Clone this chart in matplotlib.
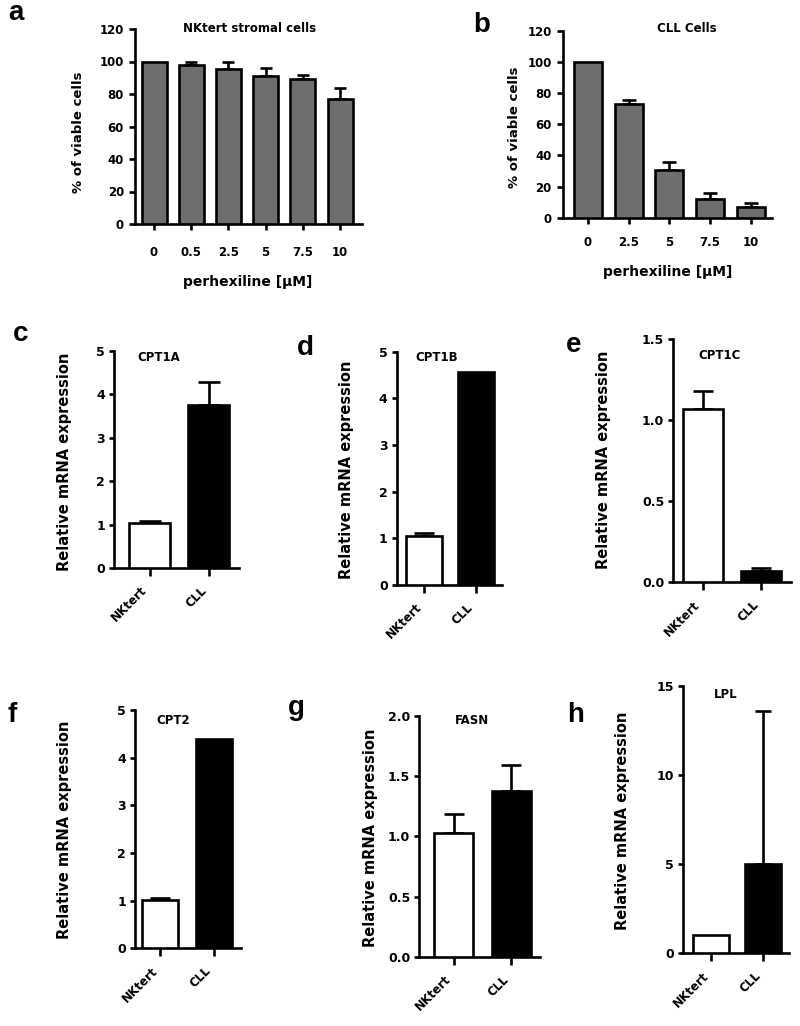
import numpy as np
import matplotlib
matplotlib.use('Agg')
import matplotlib.pyplot as plt
from matplotlib.ticker import FormatStrFormatter

# GraphPad exports letter-spaced Arial; the wider DejaVu bold gets closer in width
plt.rcParams['font.family'] = ['DejaVu Sans']
plt.rcParams['font.weight'] = 'bold'

# data
a_doses = ['0', '0.5', '2.5', '5', '7.5', '10']
a_viable = [100, 97.8, 95.4, 91.3, 89.4, 77.1]
a_err = [0, 2.1, 4.3, 4.9, 2.3, 6.4]

b_doses = ['0', '2.5', '5', '7.5', '10']
b_viable = [100, 72.7, 30.8, 12.0, 7.1]
b_err = [0, 3.0, 4.7, 3.6, 2.1]

groups = ['NKtert', 'CLL']
cpt1a = [1.03, 3.74]
cpt1a_err = [0.06, 0.53]
cpt1b = [1.05, 4.56]
cpt1b_err = [0.06, 0]
cpt1c = [1.07, 0.07]
cpt1c_err = [0.11, 0.016]
cpt2 = [1.01, 4.39]
cpt2_err = [0.04, 0]
fasn = [1.025, 1.377]
fasn_err = [0.163, 0.216]
lpl = [1.03, 5.0]
lpl_err = [0, 8.58]

W, H = 800, 1026
fig = plt.figure(figsize=(W / 100, H / 100), dpi=100)
LW = 1.9


def px_axes(left, right, top, bottom, c0, c1, n, bw):
    ax = fig.add_axes([left / W, 1 - bottom / H, (right - left) / W, (bottom - top) / H])
    step = (c1 - c0) / (n - 1)
    ax.set_xlim((left - c0) / step, (n - 1) + (right - c1) / step)
    for s in ['top', 'right']:
        ax.spines[s].set_visible(False)
    for s in ['left', 'bottom']:
        ax.spines[s].set_linewidth(LW)
    return ax, bw / step, step


def draw_bars(ax, vals, errs, width, colors, capsize):
    x = np.arange(len(vals))
    ax.bar(x, vals, width=width, color=colors, edgecolor='black', linewidth=LW, zorder=3)
    errs = np.array(errs, dtype=float)
    m = errs > 0
    ax.errorbar(x[m], np.array(vals)[m], yerr=[np.zeros(m.sum()), errs[m]], fmt='none',
                ecolor='black', elinewidth=LW, capsize=capsize, capthick=LW, zorder=2)


def ftext(x, y, s, **kw):
    fig.text(x / W, 1 - y / H, s, **kw)


# panel a
ax, w, st = px_axes(135, 362, 29, 224, 154, 340, 6, 25)
draw_bars(ax, a_viable, a_err, w, '#6e6e6e', 4.5)
ax.set_ylim(0, 120)
ax.set_yticks(range(0, 121, 20))
ax.set_xticks(range(len(a_doses)))
ax.set_xticklabels(a_doses)
ax.tick_params(axis='x', length=4, width=LW, pad=12, labelsize=8.5)
ax.tick_params(axis='y', length=4, width=LW, pad=4, labelsize=8.5)

# panel b
ax, w, st = px_axes(562.7, 771.7, 30.7, 217.7, 588, 750.7, 5, 28)
draw_bars(ax, b_viable, b_err, w, '#6e6e6e', 5)
ax.set_ylim(0, 120)
ax.set_yticks(range(0, 121, 20))
ax.set_xticks(range(len(b_doses)))
ax.set_xticklabels(b_doses)
ax.tick_params(axis='x', length=4, width=LW, pad=9, labelsize=8.5)
ax.tick_params(axis='y', length=4, width=LW, pad=4, labelsize=8.5)

for t, x, y in [('NKtert stromal cells', 250, 29), ('CLL Cells', 687, 29)]:
    ftext(x, y, t, ha='center', va='center', fontsize=8.5, fontweight='bold')
ftext(79, 132, '% of viable cells', rotation=90, ha='center', va='center', fontsize=9.5, fontweight='bold')
ftext(515, 127, '% of viable cells', rotation=90, ha='center', va='center', fontsize=9.5, fontweight='bold')
ftext(248, 282, 'perhexiline [μM]', ha='center', va='center', fontsize=10, fontweight='bold')
ftext(668, 272, 'perhexiline [μM]', ha='center', va='center', fontsize=10, fontweight='bold')

# expression panels
panels = [
    (cpt1a, cpt1a_err, 'CPT1A', (114, 239, 350.7, 568, 149.7, 209, 41), (0, 5), [0, 1, 2, 3, 4, 5], '%d', 8, (159, 357.7), 65, 462),
    (cpt1b, cpt1b_err, 'CPT1B', (396.7, 502, 351.7, 585, 424, 475.6, 36), (0, 5), [0, 1, 2, 3, 4, 5], '%d', 7, (436.7, 357.7), 346.7, 470),
    (cpt1c, cpt1c_err, 'CPT1C', (673.3, 790.5, 339.3, 582.3, 702.7, 761, 40), (0, 1.5), [0, 0.5, 1.0, 1.5], '%.1f', 7.5, (720, 355.7), 603.3, 460),
    (cpt2, cpt2_err, 'CPT2', (135, 240.7, 710, 948.3, 160.3, 213.7, 36), (0, 5), [0, 1, 2, 3, 4, 5], '%d', 7, (173, 720), 65, 830),
    (fasn, fasn_err, 'FASN', (419.3, 540, 716, 956.7, 453.5, 511.3, 39), (0, 2), [0, 0.5, 1.0, 1.5, 2.0], '%.1f', 7.5, (471.7, 721), 370, 838),
    (lpl, lpl_err, 'LPL', (682.7, 789.3, 685.7, 953.3, 711, 763, 36), (0, 15), [0, 5, 10, 15], '%d', 6, (725.7, 695), 623, 821),
]
for vals, errs, name, geo, ylim, yt, fmt, cap, tpos, ylx, yly in panels:
    ax, w, st = px_axes(*geo[:4], geo[4], geo[5], 2, geo[6])
    draw_bars(ax, vals, errs, w, ['white', 'black'], cap)
    ax.set_ylim(*ylim)
    ax.set_yticks(yt)
    ax.yaxis.set_major_formatter(FormatStrFormatter(fmt))
    ax.set_xticks([0, 1])
    ax.set_xticklabels(groups, rotation=45, ha='right', va='top', rotation_mode='default')
    ax.tick_params(axis='x', length=5.5, width=LW, pad=6, labelsize=8.5)
    ax.tick_params(axis='y', length=3.5, width=LW, pad=3, labelsize=9)
    ftext(tpos[0], tpos[1], name, ha='center', va='center', fontsize=8.5, fontweight='bold')
    ftext(ylx, yly, 'Relative mRNA expression', rotation=90, ha='center', va='center',
          fontsize=10.5, fontweight='bold')

# panel letters
for s, x, y in [('a', 8, 20), ('b', 473, 32), ('c', 13, 340.7), ('d', 297, 355),
                ('e', 566, 351.7), ('f', 8, 721.7), ('g', 288, 715), ('h', 567, 721.7)]:
    ftext(x, y, s, ha='left', va='baseline', fontsize=20, fontweight='bold',
          family=['Liberation Sans', 'DejaVu Sans'])

fig.savefig('out.png', dpi=100)
